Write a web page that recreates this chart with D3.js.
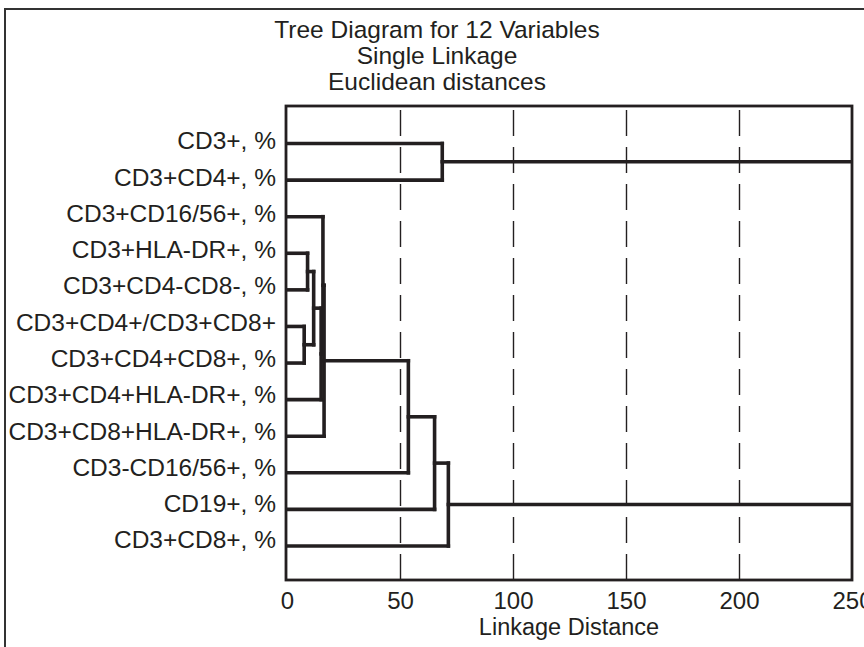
<!DOCTYPE html>
<html>
<head>
<meta charset="utf-8">
<script src="https://cdn.jsdelivr.net/npm/d3@7/dist/d3.min.js"></script>
<style>
  html, body { margin: 0; padding: 0; background: #fff; }
  svg { display: block; }
  text { font-family: "Liberation Sans", Arial, sans-serif; fill: #231f20; }
</style>
</head>
<body>
<svg id="chart" width="864" height="647"></svg>
<script>
// ---- data ----
const titleLines = ["Tree Diagram for 12 Variables", "Single Linkage", "Euclidean distances"];
const variables = [
  "CD3+, %",
  "CD3+CD4+, %",
  "CD3+CD16/56+, %",
  "CD3+HLA-DR+, %",
  "CD3+CD4-CD8-, %",
  "CD3+CD4+/CD3+CD8+",
  "CD3+CD4+CD8+, %",
  "CD3+CD4+HLA-DR+, %",
  "CD3+CD8+HLA-DR+, %",
  "CD3-CD16/56+, %",
  "CD19+, %",
  "CD3+CD8+, %"
];
// merges: [child A, child B, linkage distance]; leaves are 0..11, merge k gets id 12+k
const mergeA = [5, 3, 13, 14, 2, 16, 17, 18, 0, 19, 20];
const mergeB = [6, 4, 12, 7, 15, 8, 9, 10, 1, 11, 21];
const mergeDist = [7.6, 9.1, 11.8, 15.1, 15.9, 16.4, 53.7, 65.3, 68.7, 71.4, 255];
const xTicks = [0, 50, 100, 150, 200, 250];
const xLabel = "Linkage Distance";

// ---- layout ----
const svg = d3.select("#chart");
const plot = { left: 286, right: 852, top: 106, bottom: 580 };

const x = d3.scaleLinear().domain([0, 250]).range([plot.left + 1, plot.right]);
const y = d3.scalePoint().domain(d3.range(variables.length)).range([143.5, 546]);
const yLab = d3.scalePoint().domain(variables).range([141, 540]);

// outer frame
svg.append("rect")
  .attr("x", 5).attr("y", 9).attr("width", 880).attr("height", 660)
  .attr("fill", "none").attr("stroke", "#333").attr("stroke-width", 2);

// title
svg.append("g").selectAll("text").data(titleLines).join("text")
  .attr("x", 437).attr("y", (d, i) => 38 + i * 26)
  .attr("text-anchor", "middle")
  .style("font-size", "24.5px")
  .text(d => d);

// clip
svg.append("defs").append("clipPath").attr("id", "plotclip")
  .append("rect").attr("x", plot.left).attr("y", plot.top)
  .attr("width", plot.right - plot.left).attr("height", plot.bottom - plot.top);

// dashed grid
const grid = svg.append("g")
  .attr("transform", `translate(0,${plot.bottom})`)
  .call(d3.axisBottom(x).tickValues(xTicks.filter(t => t > 0 && t < 250))
    .tickSize(-(plot.bottom - plot.top)).tickFormat(""));
grid.select(".domain").remove();
grid.selectAll(".tick line")
  .attr("stroke", "#231f20").attr("stroke-width", 1.4)
  .attr("stroke-dasharray", "26,11");

// tree
const nodeX = new Map();
const nodeY = new Map();
variables.forEach((v, i) => { nodeX.set(i, 0); nodeY.set(i, y(i)); });
const segs = [];
mergeDist.forEach((h, k) => {
  const id = variables.length + k;
  const a = mergeA[k], b = mergeB[k];
  segs.push({ x1: nodeX.get(a), y1: nodeY.get(a), x2: h, y2: nodeY.get(a) });
  segs.push({ x1: nodeX.get(b), y1: nodeY.get(b), x2: h, y2: nodeY.get(b) });
  segs.push({ x1: h, y1: nodeY.get(a), x2: h, y2: nodeY.get(b) });
  nodeX.set(id, h);
  nodeY.set(id, (nodeY.get(a) + nodeY.get(b)) / 2);
});
svg.append("g").attr("clip-path", "url(#plotclip)")
  .selectAll("line").data(segs).join("line")
  .attr("x1", d => d.x1 === 0 ? plot.left : x(d.x1))
  .attr("x2", d => x(d.x2))
  .attr("y1", d => d.y1).attr("y2", d => d.y2)
  .attr("stroke", "#231f20").attr("stroke-width", 3.6)
  .attr("stroke-linecap", "square");

// plot frame
svg.append("rect")
  .attr("x", plot.left).attr("y", plot.top)
  .attr("width", plot.right - plot.left).attr("height", plot.bottom - plot.top)
  .attr("fill", "none").attr("stroke", "#231f20").attr("stroke-width", 2.8);

// x axis labels
const xa = svg.append("g")
  .attr("transform", `translate(0,${plot.bottom})`)
  .call(d3.axisBottom(x).tickValues(xTicks).tickSize(0).tickPadding(12).tickFormat(d3.format("d")));
xa.select(".domain").remove();
xa.selectAll("text").style("font-size", "24px").attr("fill", "#231f20")
  .style("font-family", '"Liberation Sans", Arial, sans-serif');

svg.append("text")
  .attr("x", (plot.left + plot.right) / 2).attr("y", 635)
  .attr("text-anchor", "middle").style("font-size", "23.5px")
  .text(xLabel);

// y labels
const ya = svg.append("g")
  .attr("transform", `translate(${plot.left},0)`)
  .call(d3.axisLeft(yLab).tickSize(0).tickPadding(10));
ya.select(".domain").remove();
ya.selectAll("text").style("font-size", "24.5px").attr("fill", "#231f20")
  .style("font-family", '"Liberation Sans", Arial, sans-serif');
</script>
</body>
</html>
